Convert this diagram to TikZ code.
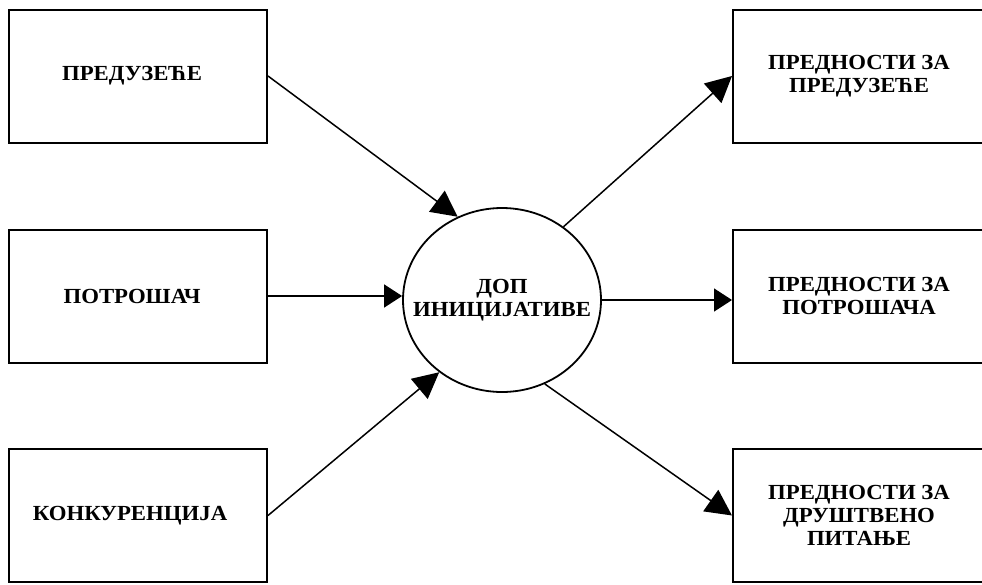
\documentclass[tikz,border=0pt]{standalone}
\usepackage{fontspec}
\setmainfont{Liberation Serif}
\newfontfamily\boxfont[FakeStretch=1.06]{Liberation Serif}
\usetikzlibrary{arrows.meta,shapes.geometric}
\begin{document}
\begin{tikzpicture}[x=1pt,y=-1pt,
  label font/.style={font=\boxfont\fontsize{21.5}{23}\selectfont\bfseries},
  box/.style={draw,line width=2pt,minimum width=258pt,minimum height=133pt,
    align=center,inner sep=0pt,label font},
  rbox/.style={box,minimum width=252pt},
  hub/.style={draw,ellipse,line width=1.8pt,minimum width=198pt,minimum height=184pt,
    inner sep=0pt},
  hubtext/.style={align=center,inner sep=0pt,label font},
  flow/.style={line width=1.5pt,-{Triangle[length=26pt,width=26pt]}},
  straight flow/.style={line width=1.5pt,-{Triangle[length=18pt,width=23pt]}}]
\useasboundingbox (0,0) rectangle (982,584);
% sources
\node[box] (s1) at (138,76) {ПРЕДУЗЕЋЕ\hspace*{12pt}};
\node[box] (s2) at (138,296) {ПОТРОШАЧ\hspace*{12pt}};
\node[box] (s3) at (138,515.5) {КОНКУРЕНЦИЈА\hspace*{16pt}};
% central initiative
\node[hub] (c) at (502,300) {};
\node[hubtext] (ct) at (c.center) {ДОП\\ИНИЦИЈАТИВЕ};
% outcomes, running past the right margin
\node[rbox] (r1) at (859,76) {ПРЕДНОСТИ ЗА\\ПРЕДУЗЕЋЕ};
\node[rbox] (r2) at (859,296) {ПРЕДНОСТИ ЗА\\ПОТРОШАЧА};
\node[rbox] (r3) at (859,515.5) {ПРЕДНОСТИ ЗА\\ДРУШТВЕНО\\ПИТАЊЕ};
% connectors
\draw[flow] (s1.east) -- (c.118);
\draw[straight flow] (s2.east) -- (c.west |- s2.east);
\draw[flow] (s3.east) -- (c.229);
\draw[flow] (c.50) -- (r1.west);
\draw[straight flow] (c.east) -- (r2.west |- c.east);
\draw[flow] (c.297) -- (r3.west);
\end{tikzpicture}
\end{document}
